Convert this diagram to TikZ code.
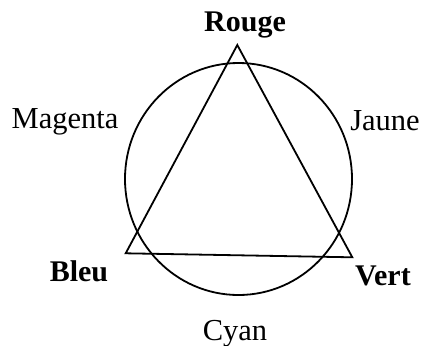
\documentclass[tikz,border=0pt]{standalone}
\usepackage{fontspec}
\setmainfont{Liberation Serif}
\begin{document}
\begin{tikzpicture}[x=1pt,y=-1pt,
  lbl/.style={anchor=base,inner sep=0pt,font=\fontsize{30.5}{32}\selectfont},
  blbl/.style={lbl,font=\fontsize{30}{32}\selectfont\bfseries},
  shape line/.style={line width=1.8pt,line join=miter}]
\useasboundingbox (0,0) rectangle (424,346);
\coordinate (c) at (238.5,179);
\draw[shape line] (c) ellipse [x radius=113.5, y radius=116];
\coordinate (r) at (237.3,45);
\coordinate (b) at (125.7,253.3);
\coordinate (v) at (352.3,257.3);
\draw[shape line] (r) -- (b) -- (v) -- cycle;
\node[blbl] (rouge) at (245,31.7) {Rouge};
\node[lbl] (magenta) at (65,128.3) {Magenta};
\node[lbl] (jaune) at (385,130) {Jaune};
\node[blbl] (bleu) at (79,281.5) {Bleu};
\node[blbl] (vert) at (383,285) {Vert};
\node[lbl] (cyan) at (235,340) {Cyan};
\end{tikzpicture}
\end{document}
